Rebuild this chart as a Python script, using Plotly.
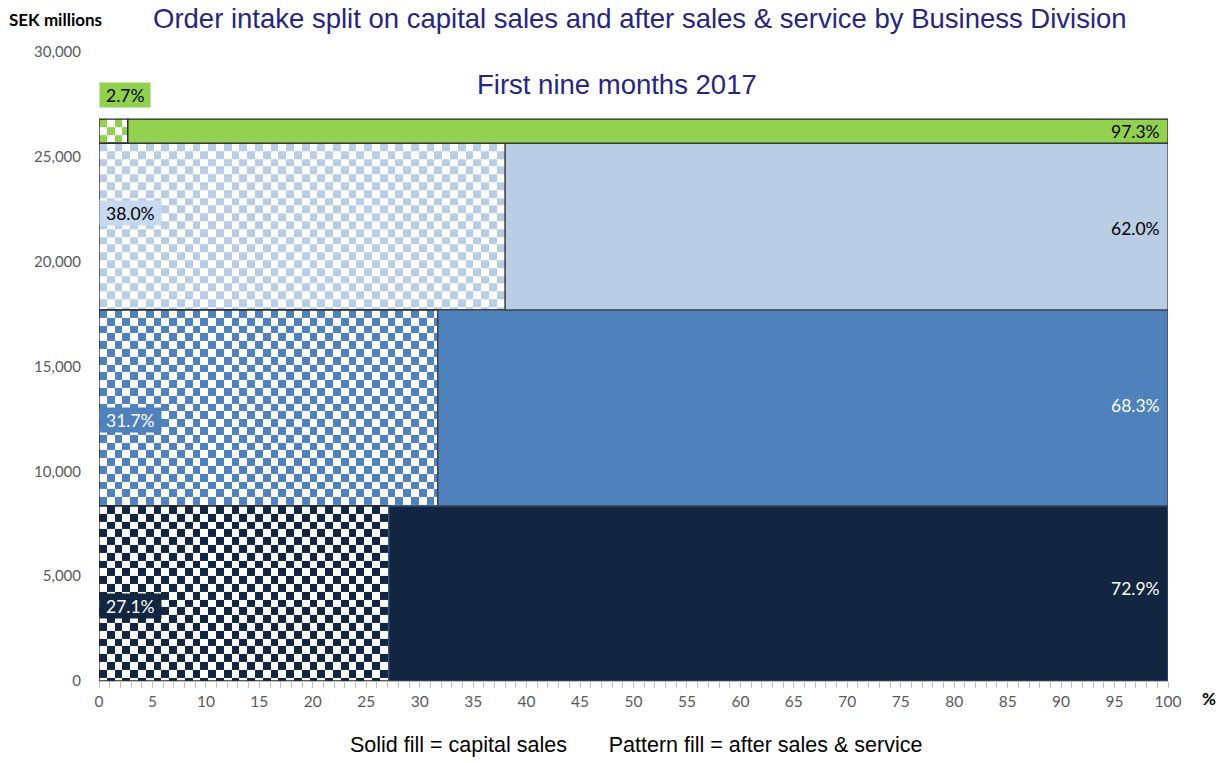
import numpy as np
import plotly.graph_objects as go

# ---- data ----
divisions = ["Division A", "Division B", "Division C", "Division D"]
order_intake = [8350, 9350, 7950, 1150]          # SEK millions (row heights)
after_sales_pct = [27.1, 31.7, 38.0, 2.7]         # pattern fill share
capital_pct = [72.9, 68.3, 62.0, 97.3]            # solid fill share
colors = ["#122641", "#4F81BD", "#B9CDE5", "#92D050"]
label_box_colors = ["#122641", "#4F81BD", "#C6D9F1", "#92D050"]
label_font_colors = ["white", "white", "black", "black"]
y_ticks = [0, 5000, 10000, 15000, 20000, 25000, 30000]
x_ticks = list(range(0, 101, 5))

# ---- geometry helpers ----
W, H = 1228, 763
L, R, T, B = 99, 1228 - 1168, 52, 763 - 681
PW, PH = W - L - R, H - T - B
YMAX = 30000


def px_x(p):
    return (p - L) / PW


def px_y(p):
    return (H - B - p) / PH


bottoms = np.concatenate([[0], np.cumsum(order_intake)[:-1]])
tops = np.cumsum(order_intake)
centers = (bottoms + tops) / 2

fig = go.Figure()

# checkerboard for the pattern (after sales & service) parts
cell_x = 7.8 * 100 / PW
cell_y = 7.8 * YMAX / PH
for i in range(len(divisions)):
    p = after_sales_pct[i]
    xe = list(np.arange(0, p, cell_x))
    if p - xe[-1] < 1e-6:
        xe = xe[:-1]
    xe.append(p)
    ye = list(np.arange(tops[i], bottoms[i], -cell_y))
    if ye[-1] - bottoms[i] < 1e-6:
        ye = ye[:-1]
    ye.append(bottoms[i])
    ye = ye[::-1]
    nr, nc = len(ye) - 1, len(xe) - 1
    z = [[(r + c) % 2 for c in range(nc)] for r in range(nr)]
    fig.add_trace(go.Heatmap(
        x=xe, y=ye, z=z, zmin=0, zmax=1,
        colorscale=[[0, "white"], [1, colors[i]]],
        showscale=False, hoverinfo="skip"))

# pattern parts outline
fig.add_trace(go.Bar(
    orientation="h", y=centers, x=after_sales_pct, base=0,
    width=order_intake,
    marker=dict(color="rgba(0,0,0,0)", line=dict(color="#262626", width=1.3)),
    hoverinfo="skip", showlegend=False))

# solid parts (capital sales)
fig.add_trace(go.Bar(
    orientation="h", y=centers, x=capital_pct, base=after_sales_pct,
    width=order_intake,
    marker=dict(color=colors,
                line=dict(color=["#3A5F8F", "#404040", "#404040", "#262626"], width=1.2)),
    hoverinfo="skip", showlegend=False))

annotations = []
lab_font = "Lato, 'Open Sans', sans-serif"
LAB_SIZE = 17.5
# left (pattern) labels
left_label_y = [3580, 12450, 22300, 27950]
for i in range(len(divisions)):
    annotations.append(dict(
        x=0, y=left_label_y[i], xref="x", yref="y", xanchor="left", yanchor="middle",
        xshift=0, text=f"&nbsp;{after_sales_pct[i]:.1f}%&nbsp;", showarrow=False,
        font=dict(family=lab_font, size=LAB_SIZE, color=label_font_colors[i]),
        bgcolor=label_box_colors[i], borderpad=1.5))
# right (solid) labels
right_label_y = [4390, 13120, 21560, centers[3]]
for i in range(len(divisions)):
    annotations.append(dict(
        x=100, y=right_label_y[i], xref="x", yref="y", xanchor="right", yanchor="middle",
        xshift=-6, text=f"{capital_pct[i]:.1f}%", showarrow=False,
        font=dict(family=lab_font, size=LAB_SIZE, color=label_font_colors[i])))

arial = "'Liberation Sans', Arial, sans-serif"
title_col = "#262680"
annotations += [
    dict(xref="paper", yref="paper", x=px_x(640), y=px_y(18), xanchor="center", yanchor="middle",
         text="Order intake split on capital sales and after sales & service by Business Division",
         showarrow=False, font=dict(family=arial, size=27.5, color=title_col)),
    dict(xref="paper", yref="paper", x=px_x(617), y=px_y(84), xanchor="center", yanchor="middle",
         text="First nine months 2017", showarrow=False,
         font=dict(family=arial, size=27.5, color=title_col)),
    dict(xref="paper", yref="paper", x=px_x(7), y=px_y(20), xanchor="left", yanchor="middle",
         text="<b>SEK millions</b>", showarrow=False,
         font=dict(family=lab_font, size=17, color="black")),
    dict(xref="paper", yref="paper", x=px_x(1209), y=px_y(698), xanchor="center", yanchor="middle",
         text="<b>%</b>", showarrow=False,
         font=dict(family=lab_font, size=17, color="black")),
    dict(xref="paper", yref="paper", x=px_x(636), y=px_y(745), xanchor="center", yanchor="middle",
         text="Solid fill = capital sales&nbsp;&nbsp;&nbsp;&nbsp;&nbsp;&nbsp;&nbsp;Pattern fill = after sales & service",
         showarrow=False, font=dict(family=arial, size=21.5, color="black")),
]

fig.update_layout(
    width=W, height=H,
    margin=dict(l=L, r=R, t=T, b=B, pad=0),
    paper_bgcolor="white", plot_bgcolor="white",
    barmode="overlay", showlegend=False,
    annotations=annotations,
    xaxis=dict(range=[0, 100], tickvals=x_ticks, ticks="outside", ticklen=6,
               tickcolor="#BFBFBF", showgrid=False, zeroline=False,
               showline=True, linecolor="#BFBFBF", linewidth=1,
               tickfont=dict(family=lab_font, size=15.5, color="#595959"),
               minor=dict(dtick=1, ticks="outside", ticklen=6, tickcolor="#BFBFBF")),
    yaxis=dict(range=[0, YMAX], tickvals=y_ticks, tickformat=",", ticks="outside",
               ticklen=14, tickcolor="rgba(0,0,0,0)", showgrid=True, gridcolor="#D9D9D9",
               zeroline=False, showline=False,
               tickfont=dict(family=lab_font, size=15, color="#595959")),
)

fig.write_html("out.html")
